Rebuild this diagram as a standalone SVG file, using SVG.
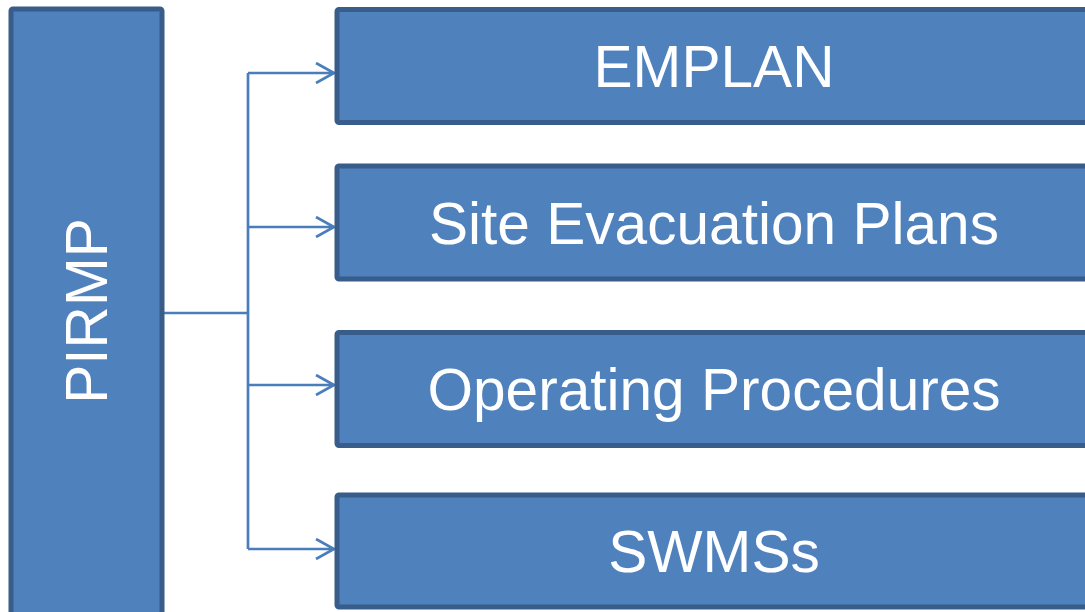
<svg xmlns="http://www.w3.org/2000/svg" width="1085" height="612" viewBox="0 0 1085 612">
  <style>
    .box { fill: #4F81BD; stroke: #385D8A; stroke-width: 5; }
    .label { fill: #FFFFFF; font-family: "Liberation Sans", Arial, sans-serif; font-size: 58.6px; text-anchor: middle; }
    .link { fill: none; stroke: #4A7EBB; stroke-width: 2.7; }
  </style>
  <defs>
    <marker id="chevron" viewBox="0 0 20 22" refX="19" refY="11" markerWidth="20" markerHeight="22" markerUnits="userSpaceOnUse" orient="auto">
      <path d="M1,1 L19,11 L1,21" fill="none" stroke="#4A7EBB" stroke-width="2.7"/>
    </marker>
  </defs>
  <rect width="1085" height="612" fill="#FFFFFF"/>

  <g id="connectors">
    <path class="link" d="M164,313 H248"/>
    <path class="link" d="M248,73 V549"/>
    <path class="link" d="M248,73 H334" marker-end="url(#chevron)"/>
    <path class="link" d="M248,227 H334" marker-end="url(#chevron)"/>
    <path class="link" d="M248,385 H334" marker-end="url(#chevron)"/>
    <path class="link" d="M248,549 H334" marker-end="url(#chevron)"/>
  </g>

  <g id="pirmp">
    <rect class="box" x="11" y="9" width="151" height="606" rx="2"/>
    <text class="label" transform="translate(107,311) rotate(-90)">PIRMP</text>
  </g>

  <g id="emplan">
    <rect class="box" x="337" y="9.5" width="756" height="113" rx="2"/>
    <text class="label" x="714" y="87">EMPLAN</text>
  </g>

  <g id="site-evacuation-plans">
    <rect class="box" x="337" y="166" width="756" height="113" rx="2"/>
    <text class="label" x="714" y="244">Site Evacuation Plans</text>
  </g>

  <g id="operating-procedures">
    <rect class="box" x="337" y="332.5" width="756" height="113" rx="2"/>
    <text class="label" x="714" y="410">Operating Procedures</text>
  </g>

  <g id="swmss">
    <rect class="box" x="337" y="495" width="756" height="112" rx="2"/>
    <text class="label" x="714" y="572">SWMSs</text>
  </g>
</svg>
